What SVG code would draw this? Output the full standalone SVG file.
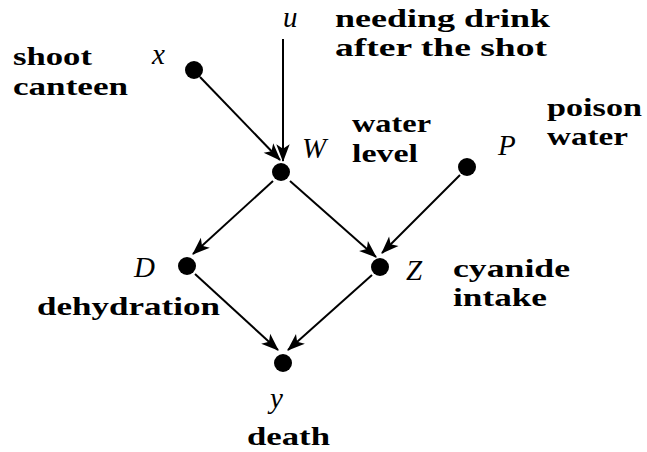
<svg xmlns="http://www.w3.org/2000/svg" width="647" height="452" viewBox="0 0 647 452">
<defs>
<marker id="ah" markerUnits="userSpaceOnUse" markerWidth="20" markerHeight="20" viewBox="-16 -8 18 16" refX="0" refY="0" orient="auto">
<path d="M1,0 L-15,-6 L-11,0 L-15,6 Z" fill="#000"/>
</marker>
</defs>
<style>
text{fill:#000}
.lbl{font-family:Liberation Serif, Times New Roman, Nimbus Roman, Tinos, serif;font-weight:bold;font-size:26px}
.m{font-family:Liberation Serif, Times New Roman, Nimbus Roman, Tinos, serif;font-style:italic;font-size:29px}
.e{stroke:#000;stroke-width:2;fill:none;marker-end:url(#ah)}
.n{fill:#000}
</style>
<rect width="647" height="452" fill="#fff"/>
<g id="connectors">
<line class="e" x1="283" y1="39" x2="283" y2="161"/>
<line class="e" x1="200" y1="77" x2="280" y2="160"/>
<line class="e" x1="273" y1="181" x2="193" y2="254"/>
<line class="e" x1="290" y1="181" x2="376" y2="257"/>
<line class="e" x1="460" y1="175" x2="382" y2="253"/>
<line class="e" x1="195" y1="274" x2="278" y2="350"/>
<line class="e" x1="372" y1="275" x2="288" y2="350"/>
</g>
<g id="node-u">
<text class="m" x="283" y="27">u</text>
<text class="lbl" x="335" y="27" textLength="215" lengthAdjust="spacingAndGlyphs">needing drink</text>
<text class="lbl" x="335" y="56" textLength="212" lengthAdjust="spacingAndGlyphs">after the shot</text>
</g>
<g id="node-x">
<circle class="n" cx="194" cy="70" r="9"/>
<text class="m" x="152" y="64">x</text>
<text class="lbl" x="13" y="65" textLength="79" lengthAdjust="spacingAndGlyphs">shoot</text>
<text class="lbl" x="13" y="95" textLength="115" lengthAdjust="spacingAndGlyphs">canteen</text>
</g>
<g id="node-W">
<circle class="n" cx="281" cy="172" r="9"/>
<text class="m" x="302" y="158">W</text>
<text class="lbl" x="352" y="132" textLength="79" lengthAdjust="spacingAndGlyphs">water</text>
<text class="lbl" x="352" y="162" textLength="66" lengthAdjust="spacingAndGlyphs">level</text>
</g>
<g id="node-P">
<circle class="n" cx="467" cy="167" r="9"/>
<text class="m" x="498" y="155">P</text>
<text class="lbl" x="547" y="116" textLength="95" lengthAdjust="spacingAndGlyphs">poison</text>
<text class="lbl" x="547" y="145" textLength="81" lengthAdjust="spacingAndGlyphs">water</text>
</g>
<g id="node-D">
<circle class="n" cx="187" cy="266" r="9"/>
<text class="m" x="134" y="277">D</text>
<text class="lbl" x="37" y="315" textLength="183" lengthAdjust="spacingAndGlyphs">dehydration</text>
</g>
<g id="node-Z">
<circle class="n" cx="380" cy="267" r="9"/>
<text class="m" x="406" y="280">Z</text>
<text class="lbl" x="453" y="277" textLength="117" lengthAdjust="spacingAndGlyphs">cyanide</text>
<text class="lbl" x="453" y="306" textLength="94" lengthAdjust="spacingAndGlyphs">intake</text>
</g>
<g id="node-y">
<circle class="n" cx="283" cy="363" r="9"/>
<text class="m" x="270" y="408">y</text>
<text class="lbl" x="247" y="445" textLength="83" lengthAdjust="spacingAndGlyphs">death</text>
</g>
</svg>
